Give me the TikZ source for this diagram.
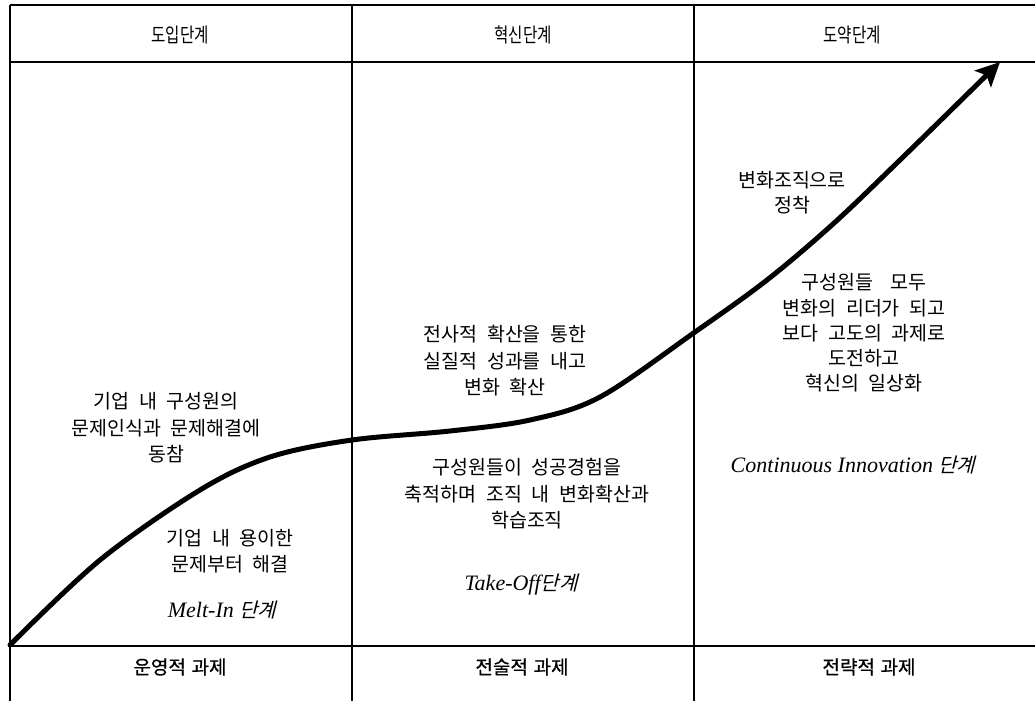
\documentclass[tikz,border=0pt]{standalone}
\usepackage{graphicx}
\usepackage{fontspec}
\setmainfont{Liberation Serif}
\newfontfamily\kr{Noto Sans CJK KR}
\newfontfamily\krb[FakeBold=0.7]{Noto Sans CJK KR}
\newfontfamily\krit[FakeSlant=0.25]{Noto Sans CJK KR}
\usetikzlibrary{arrows.meta}
\newcommand\widespaces{\spaceskip=0.5em\relax}
\newcommand\narrowtxt[1]{\scalebox{0.78}[1]{#1}}
\tikzset{
  grid/.style={line width=1.5pt, black},
  hdr/.style={font=\kr\fontsize{20}{24}\selectfont, inner sep=0pt},
  ftr/.style={font=\krb\fontsize{19}{24}\selectfont, inner sep=0pt, execute at begin node={\spaceskip=0.3em\relax}},
  body/.style={font=\kr\fontsize{19.5}{26.5}\selectfont, align=center, inner sep=0pt, execute at begin node=\widespaces},
  bodyr/.style={font=\kr\fontsize{19.5}{25.2}\selectfont, align=center, inner sep=0pt, execute at begin node=\widespaces},
  phase/.style={font=\itshape\fontsize{22}{26}\selectfont, inner sep=0pt},
  curve/.style={line width=5pt, line cap=round, -{Stealth[length=24pt,width=23pt,inset=5pt]}}
}
\begin{document}
\begin{tikzpicture}[x=1pt,y=-1pt]
\useasboundingbox (0,0) rectangle (1035,701);
% grid
\draw[grid] (10,5) -- (1035,5);
\draw[grid] (10,62) -- (1035,62);
\draw[grid] (10,646) -- (1035,646);
\draw[grid] (10,5) -- (10,701);
\draw[grid] (352,5) -- (352,701);
\draw[grid] (694,5) -- (694,701);
% headers
\node[hdr] (h1) at (180,35) {\narrowtxt{도입단계}};
\node[hdr] (h2) at (523,35) {\narrowtxt{혁신단계}};
\node[hdr] (h3) at (852,35) {\narrowtxt{도약단계}};
% footers
\node[ftr] (f1) at (180,667) {운영적 과제};
\node[ftr] (f2) at (522,667) {전술적 과제};
\node[ftr] (f3) at (869,667) {전략적 과제};
% curve
\coordinate (s) at (10,645);
\coordinate (c1) at (100,560);
\coordinate (c2) at (200,490);
\coordinate (c3) at (270,457);
\coordinate (c4) at (352,440);
\coordinate (c5) at (450,431);
\coordinate (c6) at (530,420);
\coordinate (c7) at (600,397);
\coordinate (c8) at (695,332);
\coordinate (c9) at (767,280);
\coordinate (c10) at (833,224);
\coordinate (c11) at (900,160);
\coordinate (e) at (1000,62);
\draw[curve] plot[smooth, tension=0.55] coordinates {(s) (c1) (c2) (c3) (c4) (c5) (c6) (c7) (c8) (c9) (c10) (c11) (e)};
% left column
\node[body] (t1) at (166,428) {기업 내 구성원의\\문제인식과 문제해결에\\동참};
\node[body] (t2) at (230,551) {기업 내 용이한\\문제부터 해결};
\node[phase] (p1) at (222,610) {Melt-In {\krit\fontsize{20}{24}\selectfont 단계}};
% middle column
\node[body] (t3) at (505,361) {전사적 확산을 통한\\실질적 성과를 내고\\변화 확산};
\node[body] (t4) at (527,494) {구성원들이 성공경험을\\축적하며 조직 내 변화확산과\\학습조직};
\node[phase] (p2) at (521,585) {Take-Off{\krit\fontsize{20}{24}\selectfont 단계}};
% right column
\node[bodyr] (t5) at (792,193) {변화조직으로\\정착};
\node[bodyr] (t6) at (864,333) {구성원들\hspace{0.4em} 모두\\변화의 리더가 되고\\보다 고도의 과제로\\도전하고\\혁신의 일상화};
\node[phase] (p3) at (853,465) {Continuous Innovation {\krit\fontsize{20}{24}\selectfont 단계}};
\end{tikzpicture}
\end{document}
